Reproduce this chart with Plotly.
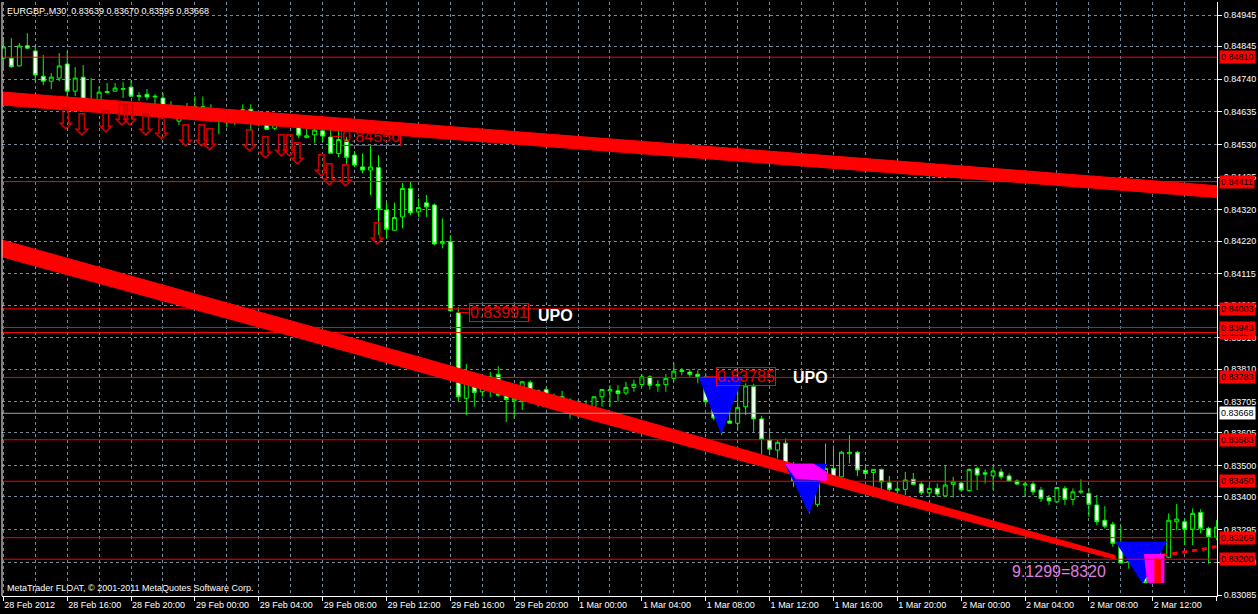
import pandas as pd
import plotly.graph_objects as go

T0 = pd.Timestamp("2012-02-28 12:00")
BAR = pd.Timedelta(minutes=30)


def bt(i):
    return T0 + BAR * i


opens = [
    0.84807, 0.84807, 0.84782, 0.84847, 0.84830, 0.84749, 0.84733, 0.84743, 0.84788, 0.84701,
    0.84746, 0.84672, 0.84669, 0.84700, 0.84701, 0.84707, 0.84714, 0.84684, 0.84691, 0.84685,
    0.84679, 0.84653, 0.84605, 0.84627, 0.84612, 0.84651, 0.84640, 0.84618, 0.84613, 0.84608,
    0.84635, 0.84643, 0.84620, 0.84605, 0.84582, 0.84610, 0.84610, 0.84598, 0.84553, 0.84561,
    0.84574, 0.84554, 0.84501, 0.84544, 0.84496, 0.84458, 0.84448, 0.84456, 0.84320, 0.84255,
    0.84298, 0.84389, 0.84314, 0.84343, 0.84336, 0.84213, 0.84218, 0.83990, 0.83716, 0.83780,
    0.83737, 0.83755, 0.83793, 0.83726, 0.83708, 0.83705, 0.83767, 0.83740, 0.83744, 0.83712,
    0.83721, 0.83710, 0.83669, 0.83688, 0.83669, 0.83721, 0.83740, 0.83740, 0.83733, 0.83751,
    0.83760, 0.83785, 0.83756, 0.83760, 0.83780, 0.83802, 0.83800, 0.83793, 0.83785, 0.83705,
    0.83656, 0.83643, 0.83636, 0.83689, 0.83753, 0.83650, 0.83582, 0.83550, 0.83572, 0.83504,
    0.83448, 0.83457, 0.83376, 0.83461, 0.83491, 0.83464, 0.83538, 0.83543, 0.83485, 0.83478,
    0.83488, 0.83445, 0.83421, 0.83424, 0.83456, 0.83441, 0.83413, 0.83427, 0.83403, 0.83440,
    0.83444, 0.83420, 0.83491, 0.83477, 0.83467, 0.83480, 0.83467, 0.83451, 0.83438, 0.83441,
    0.83422, 0.83397, 0.83384, 0.83427, 0.83392, 0.83415, 0.83411, 0.83374, 0.83325, 0.83312,
    0.83251, 0.83191, 0.83188, 0.83206, 0.83125, 0.83203, 0.83206, 0.83320, 0.83320, 0.83296,
    0.83350, 0.83299, 0.83271,
]
highs = [
    0.84875, 0.84871, 0.84855, 0.84887, 0.84849, 0.84817, 0.84759, 0.84823, 0.84830, 0.84778,
    0.84785, 0.84743, 0.84717, 0.84727, 0.84727, 0.84730, 0.84736, 0.84698, 0.84708, 0.84691,
    0.84695, 0.84669, 0.84656, 0.84663, 0.84685, 0.84684, 0.84659, 0.84638, 0.84630, 0.84637,
    0.84659, 0.84659, 0.84630, 0.84627, 0.84620, 0.84623, 0.84625, 0.84612, 0.84588, 0.84587,
    0.84614, 0.84587, 0.84598, 0.84554, 0.84509, 0.84501, 0.84525, 0.84496, 0.84345, 0.84343,
    0.84407, 0.84410, 0.84357, 0.84368, 0.84341, 0.84293, 0.84239, 0.84008, 0.83826, 0.83796,
    0.83780, 0.83801, 0.83819, 0.83731, 0.83726, 0.83771, 0.83774, 0.83744, 0.83753, 0.83731,
    0.83740, 0.83716, 0.83710, 0.83710, 0.83721, 0.83745, 0.83758, 0.83758, 0.83769, 0.83776,
    0.83793, 0.83790, 0.83774, 0.83794, 0.83830, 0.83813, 0.83809, 0.83806, 0.83796, 0.83737,
    0.83675, 0.83753, 0.83753, 0.83764, 0.83763, 0.83660, 0.83620, 0.83582, 0.83587, 0.83512,
    0.83491, 0.83464, 0.83464, 0.83571, 0.83564, 0.83547, 0.83598, 0.83547, 0.83504, 0.83489,
    0.83491, 0.83467, 0.83448, 0.83480, 0.83477, 0.83448, 0.83438, 0.83443, 0.83502, 0.83464,
    0.83448, 0.83491, 0.83497, 0.83488, 0.83497, 0.83491, 0.83475, 0.83456, 0.83448, 0.83448,
    0.83432, 0.83406, 0.83432, 0.83435, 0.83427, 0.83456, 0.83427, 0.83406, 0.83370, 0.83320,
    0.83309, 0.83242, 0.83249, 0.83240, 0.83240, 0.83229, 0.83347, 0.83377, 0.83331, 0.83363,
    0.83360, 0.83304, 0.83325,
]
lows = [
    0.84769, 0.84777, 0.84780, 0.84836, 0.84730, 0.84720, 0.84708, 0.84733, 0.84672, 0.84685,
    0.84666, 0.84659, 0.84643, 0.84693, 0.84700, 0.84679, 0.84682, 0.84669, 0.84672, 0.84650,
    0.84640, 0.84621, 0.84592, 0.84614, 0.84611, 0.84606, 0.84604, 0.84563, 0.84585, 0.84592,
    0.84630, 0.84573, 0.84588, 0.84576, 0.84576, 0.84588, 0.84593, 0.84550, 0.84550, 0.84534,
    0.84538, 0.84501, 0.84490, 0.84464, 0.84458, 0.84437, 0.84368, 0.84239, 0.84229, 0.84253,
    0.84261, 0.84303, 0.84298, 0.84298, 0.84207, 0.84197, 0.83993, 0.83707, 0.83662, 0.83689,
    0.83721, 0.83721, 0.83721, 0.83640, 0.83652, 0.83678, 0.83710, 0.83689, 0.83699, 0.83694,
    0.83701, 0.83651, 0.83654, 0.83651, 0.83667, 0.83689, 0.83689, 0.83705, 0.83726, 0.83737,
    0.83753, 0.83744, 0.83737, 0.83737, 0.83769, 0.83790, 0.83785, 0.83764, 0.83697, 0.83646,
    0.83598, 0.83636, 0.83614, 0.83662, 0.83609, 0.83534, 0.83534, 0.83523, 0.83502, 0.83432,
    0.83422, 0.83347, 0.83368, 0.83459, 0.83438, 0.83432, 0.83507, 0.83467, 0.83459, 0.83427,
    0.83416, 0.83416, 0.83406, 0.83406, 0.83438, 0.83406, 0.83400, 0.83400, 0.83400, 0.83398,
    0.83416, 0.83416, 0.83422, 0.83443, 0.83422, 0.83456, 0.83448, 0.83438, 0.83403, 0.83406,
    0.83384, 0.83374, 0.83381, 0.83374, 0.83374, 0.83409, 0.83336, 0.83309, 0.83299, 0.83240,
    0.83186, 0.83170, 0.83170, 0.83123, 0.83123, 0.83160, 0.83203, 0.83293, 0.83245, 0.83245,
    0.83283, 0.83186, 0.83261,
]
closes = [
    0.84843, 0.84779, 0.84846, 0.84839, 0.84753, 0.84733, 0.84746, 0.84782, 0.84701, 0.84743,
    0.84675, 0.84663, 0.84698, 0.84697, 0.84711, 0.84709, 0.84685, 0.84687, 0.84682, 0.84683,
    0.84650, 0.84624, 0.84637, 0.84629, 0.84652, 0.84641, 0.84614, 0.84608, 0.84615, 0.84637,
    0.84642, 0.84621, 0.84612, 0.84579, 0.84608, 0.84613, 0.84599, 0.84560, 0.84558, 0.84576,
    0.84557, 0.84502, 0.84546, 0.84489, 0.84464, 0.84448, 0.84458, 0.84322, 0.84258, 0.84296,
    0.84389, 0.84311, 0.84328, 0.84330, 0.84211, 0.84219, 0.83997, 0.83721, 0.83769, 0.83735,
    0.83758, 0.83785, 0.83726, 0.83712, 0.83716, 0.83769, 0.83735, 0.83736, 0.83710, 0.83706,
    0.83710, 0.83669, 0.83688, 0.83678, 0.83721, 0.83744, 0.83744, 0.83731, 0.83751, 0.83761,
    0.83785, 0.83758, 0.83760, 0.83780, 0.83803, 0.83806, 0.83793, 0.83785, 0.83705, 0.83653,
    0.83641, 0.83636, 0.83687, 0.83756, 0.83650, 0.83585, 0.83553, 0.83575, 0.83507, 0.83451,
    0.83457, 0.83379, 0.83461, 0.83491, 0.83461, 0.83543, 0.83543, 0.83486, 0.83475, 0.83488,
    0.83448, 0.83424, 0.83425, 0.83454, 0.83440, 0.83413, 0.83427, 0.83409, 0.83438, 0.83448,
    0.83422, 0.83488, 0.83470, 0.83473, 0.83483, 0.83464, 0.83451, 0.83441, 0.83441, 0.83416,
    0.83395, 0.83387, 0.83430, 0.83392, 0.83416, 0.83418, 0.83376, 0.83320, 0.83306, 0.83251,
    0.83188, 0.83192, 0.83210, 0.83125, 0.83203, 0.83210, 0.83325, 0.83329, 0.83296, 0.83347,
    0.83299, 0.83272, 0.83303,
]
times = [bt(i) for i in range(len(opens))]

tick_bars = list(range(0, 153, 8))
tick_labels = [
    "28 Feb 2012", "28 Feb 16:00", "28 Feb 20:00", "29 Feb 00:00", "29 Feb 04:00",
    "29 Feb 08:00", "29 Feb 12:00", "29 Feb 16:00", "29 Feb 20:00", "1 Mar 00:00",
    "1 Mar 04:00", "1 Mar 08:00", "1 Mar 12:00", "1 Mar 16:00", "1 Mar 20:00",
    "2 Mar 00:00", "2 Mar 04:00", "2 Mar 08:00", "2 Mar 12:00", "2 Mar 16:00",
]
price_ticks = [
    0.84945, 0.84845, 0.84740, 0.84635, 0.84530, 0.84425, 0.84320, 0.84220, 0.84115,
    0.84015, 0.83910, 0.83810, 0.83705, 0.83605, 0.83500, 0.83400, 0.83295, 0.83190, 0.83085,
]

red_levels = [0.84810, 0.84411, 0.84003, 0.83927, 0.83943, 0.83783, 0.83583, 0.83450, 0.83269, 0.83200]
current_price = 0.83668

arrow_bars = [8, 10, 13, 15, 16, 18, 20, 23, 25, 26, 31, 33, 35, 36, 37, 40, 41, 43, 47]
arrow_prices = [0.84605, 0.84586, 0.84595, 0.84615, 0.84615, 0.84586, 0.84573, 0.84550, 0.84550,
                0.84538, 0.84534, 0.84512, 0.84518, 0.84518, 0.84490, 0.84454, 0.84425, 0.84422,
                0.84236]

upper_band_bars = [-0.5, 152.5, 152.5, -0.5]
upper_band_prices = [0.84699, 0.84397, 0.84359, 0.84657]
lower_band_bars = [-0.5, 37.1, 74.6, 112.1, 139.3, 139.3, 112.1, 74.6, 37.1, -0.5]
lower_band_prices = [0.84226, 0.83957, 0.83685, 0.83409, 0.83212,
                     0.83200, 0.83380, 0.83640, 0.83909, 0.84172]
tail_bars = [145.2, 147.3, 148.5, 149.5, 150.3, 151.3, 152.2]
tail_prices = [0.83213, 0.83220, 0.83225, 0.83227, 0.83232, 0.83238, 0.83240]

blue_shapes = [
    ([87.1, 92.6, 89.9], [0.83784, 0.83784, 0.83603]),
    ([97.9, 103.1, 100.9], [0.83505, 0.83505, 0.83348]),
    ([139.35, 145.7, 142.7], [0.83255, 0.83255, 0.83123]),
]
magenta_shapes = [
    ([97.9, 101.5, 103.1, 103.1, 99.2], [0.83505, 0.83505, 0.83480, 0.83452, 0.83460]),
    ([142.9, 145.4, 145.4, 143.3], [0.83215, 0.83215, 0.83125, 0.83125]),
]
red_blocks = [
    ([144.2, 145.0, 145.0, 144.2], [0.83200, 0.83200, 0.83125, 0.83125]),
]

box_texts = ["0.84556", "0.83991", "0.83785"]
box_bars = [42.3, 58.3, 89.3]
box_prices = [0.84556, 0.83991, 0.83785]
leader_bars = [41.0, 57.0, 88.0]
upo_bars = [66.7, 98.7]
upo_prices = [0.83980, 0.83782]
ratio_text = "9.1299=8320"
ratio_bar = 126.1
ratio_price = 0.83162

FONT = "Tahoma, 'Liberation Sans', Arial, sans-serif"
GRID = "#778899"
RED = "#ff0000"

fig = go.Figure()

# channel bands
fig.add_trace(go.Scatter(x=[bt(b) for b in upper_band_bars], y=upper_band_prices, mode="lines",
                         fill="toself", fillcolor=RED, line=dict(color=RED, width=1),
                         hoverinfo="skip"))
fig.add_trace(go.Scatter(x=[bt(b) for b in lower_band_bars], y=lower_band_prices, mode="lines",
                         fill="toself", fillcolor=RED, line=dict(color=RED, width=1),
                         hoverinfo="skip"))
fig.add_trace(go.Scatter(x=[bt(b) for b in tail_bars], y=tail_prices, mode="lines",
                         line=dict(color=RED, width=3, dash="5px,5px"), hoverinfo="skip"))

# pattern fills
for bars, prices in blue_shapes:
    fig.add_trace(go.Scatter(x=[bt(b) for b in bars], y=prices, mode="lines", fill="toself",
                             fillcolor="#0000ff", line=dict(color="#0000ff", width=1),
                             hoverinfo="skip"))
for bars, prices in magenta_shapes:
    fig.add_trace(go.Scatter(x=[bt(b) for b in bars], y=prices, mode="lines", fill="toself",
                             fillcolor="#ff00ff", line=dict(color="#ff00ff", width=1),
                             hoverinfo="skip"))
for bars, prices in red_blocks:
    fig.add_trace(go.Scatter(x=[bt(b) for b in bars], y=prices, mode="lines", fill="toself",
                             fillcolor=RED, line=dict(color=RED, width=1), hoverinfo="skip"))

# horizontal levels
for p in red_levels:
    fig.add_trace(go.Scatter(x=[bt(-2), bt(156)], y=[p, p], mode="lines",
                             line=dict(color=RED, width=1), hoverinfo="skip"))
fig.add_trace(go.Scatter(x=[bt(-2), bt(156)], y=[current_price, current_price], mode="lines",
                         line=dict(color="#a0a0a0", width=1), hoverinfo="skip"))

# leader lines for the price boxes
for lb, bb, p in zip(leader_bars, box_bars, box_prices):
    fig.add_trace(go.Scatter(x=[bt(lb), bt(bb)], y=[p, p], mode="lines",
                             line=dict(color=RED, width=1), hoverinfo="skip"))

# sell arrows
fig.add_trace(go.Scatter(x=[bt(b - 0.2) for b in arrow_bars], y=arrow_prices, mode="text",
                         text=["\u21e9"] * len(arrow_bars),
                         textfont=dict(color="#cc0000", size=30, family="DejaVu Sans"),
                         hoverinfo="skip"))

# candles
fig.add_trace(go.Candlestick(
    x=times, open=opens, high=highs, low=lows, close=closes,
    increasing=dict(line=dict(color="#00ff00", width=1), fillcolor="#000000"),
    decreasing=dict(line=dict(color="#00ff00", width=1), fillcolor="#ffffff"),
    whiskerwidth=0, hoverinfo="skip",
))

ann = []
ann.append(dict(xref="paper", yref="paper", x=0, y=1, xanchor="left", yanchor="top",
                xshift=3, yshift=-2, showarrow=False,
                text="EURGBP.,M30\u00a0\u00a00.83639 0.83670 0.83595 0.83668",
                font=dict(family=FONT, size=9, color="white")))
ann.append(dict(xref="paper", yref="paper", x=0, y=0, xanchor="left", yanchor="bottom",
                xshift=3, yshift=1, showarrow=False,
                text="MetaTrader FLOAT, \u00a9 2001-2011 MetaQuotes Software Corp.",
                font=dict(family=FONT, size=9, color="white")))
for t, b, p in zip(box_texts, box_bars, box_prices):
    ann.append(dict(x=bt(b), y=p, xref="x", yref="y", xanchor="left", yanchor="middle",
                    text=t, showarrow=False, bordercolor=RED, borderwidth=1, borderpad=0,
                    font=dict(family=FONT, size=16, color="#e00000")))
for b, p in zip(upo_bars, upo_prices):
    ann.append(dict(x=bt(b), y=p, xref="x", yref="y", xanchor="left", yanchor="middle",
                    text="<b>UPO</b>", showarrow=False,
                    font=dict(family=FONT, size=16, color="white")))
ann.append(dict(x=bt(ratio_bar), y=ratio_price, xref="x", yref="y", xanchor="left",
                yanchor="middle", text=ratio_text, showarrow=False,
                font=dict(family=FONT, size=16, color="#e27de2")))
# price labels of the horizontal lines on the right scale
for p in red_levels:
    ann.append(dict(xref="paper", yref="y", x=1, y=p, xanchor="left", yanchor="middle",
                    xshift=2, text=f"{p:.5f}", showarrow=False, bgcolor=RED, borderpad=1,
                    font=dict(family=FONT, size=9, color="#000000")))
ann.append(dict(xref="paper", yref="y", x=1, y=current_price, xanchor="left", yanchor="middle",
                xshift=2, text=f"{current_price:.5f}", showarrow=False, bgcolor="white",
                borderpad=1, font=dict(family=FONT, size=9, color="#000000")))

fig.update_layout(
    width=1258, height=614,
    margin=dict(l=2, r=39, t=2, b=18),
    paper_bgcolor="black", plot_bgcolor="black",
    showlegend=False,
    annotations=ann,
    shapes=[dict(type="line", xref="paper", yref="paper", x0=0, x1=0, y0=0, y1=1,
                 line=dict(color="white", width=1))],
)
fig.update_xaxes(
    type="date", range=[bt(-0.17), bt(152.05)],
    tickvals=[bt(b) for b in tick_bars], ticktext=tick_labels,
    ticks="outside", ticklen=4, tickcolor="white", ticklabelposition="outside right",
    tickfont=dict(family=FONT, size=9, color="white"),
    showgrid=True, gridcolor=GRID, griddash="3px,3px", gridwidth=1,
    minor=dict(tick0=bt(4), dtick=4 * 30 * 60 * 1000, showgrid=True, gridcolor=GRID,
               griddash="3px,3px", ticks=""),
    showline=True, linecolor="white", linewidth=1,
    rangeslider=dict(visible=False), zeroline=False, fixedrange=True,
)
fig.update_yaxes(
    side="right", range=[0.83082, 0.84987],
    tickvals=price_ticks, ticktext=[f"{v:.5f}" for v in price_ticks],
    ticks="outside", ticklen=4, tickcolor="white",
    tickfont=dict(family=FONT, size=9, color="white"),
    showgrid=True, gridcolor=GRID, griddash="3px,3px", gridwidth=1,
    showline=True, linecolor="white", linewidth=1, zeroline=False, fixedrange=True,
)

fig.write_html("out.html", post_script="document.body.style.margin='0';",
               config={"displayModeBar": False})
